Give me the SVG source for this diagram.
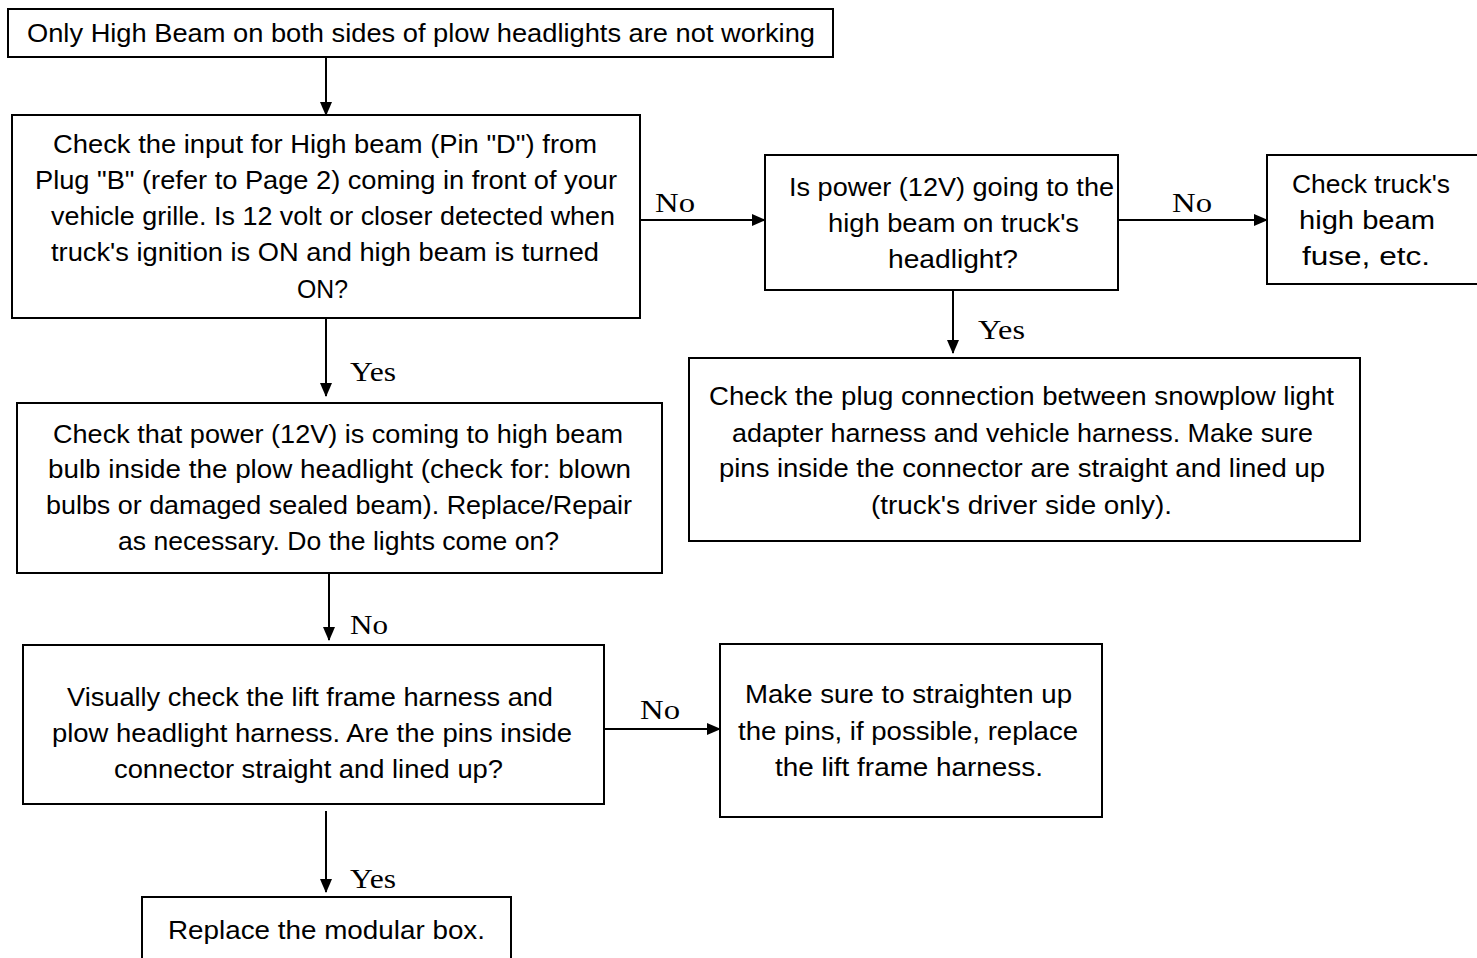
<svg xmlns="http://www.w3.org/2000/svg" width="1477" height="958" viewBox="0 0 1477 958">
<style>
.box{fill:#fff;stroke:#000;stroke-width:2}
.t{font-family:"Liberation Sans",Arial,sans-serif;font-size:25px;fill:#000}
.l{font-family:"Liberation Serif","Times New Roman",serif;font-size:28px;fill:#000}
.c{stroke:#000;stroke-width:2;fill:none;marker-end:url(#ah)}
</style>
<defs>
<marker id="ah" markerUnits="userSpaceOnUse" markerWidth="14" markerHeight="12" refX="13" refY="6" orient="auto">
<path d="M0,0 L14,6 L0,12 z" fill="#000"/>
</marker>
</defs>
<rect width="1477" height="958" fill="#fff"/>
<g id="connectors">
<line class="c" x1="326" y1="57" x2="326" y2="115"/>
<line class="c" x1="640" y1="220" x2="765" y2="220"/>
<line class="c" x1="1118" y1="220" x2="1267" y2="220"/>
<line class="c" x1="953" y1="290" x2="953" y2="353"/>
<line class="c" x1="326" y1="318" x2="326" y2="396"/>
<line class="c" x1="329" y1="573" x2="329" y2="640"/>
<line class="c" x1="604" y1="729" x2="720" y2="729"/>
<line class="c" x1="326" y1="811" x2="326" y2="892"/>
<text class="l" x="655" y="212" textLength="40" lengthAdjust="spacingAndGlyphs">No</text>
<text class="l" x="1172" y="212" textLength="40" lengthAdjust="spacingAndGlyphs">No</text>
<text class="l" x="978" y="339" textLength="47" lengthAdjust="spacingAndGlyphs">Yes</text>
<text class="l" x="350" y="381" textLength="46" lengthAdjust="spacingAndGlyphs">Yes</text>
<text class="l" x="350" y="634" textLength="38" lengthAdjust="spacingAndGlyphs">No</text>
<text class="l" x="640" y="719" textLength="40" lengthAdjust="spacingAndGlyphs">No</text>
<text class="l" x="350" y="888" textLength="46" lengthAdjust="spacingAndGlyphs">Yes</text>
</g>
<g id="start">
<rect class="box" x="8" y="9" width="825" height="48"/>
<text class="t" x="27" y="42" textLength="788" lengthAdjust="spacingAndGlyphs">Only High Beam on both sides of plow headlights are not working</text>
</g>
<g id="check-input">
<rect class="box" x="12" y="115" width="628" height="203"/>
<text class="t" x="53" y="153" textLength="544" lengthAdjust="spacingAndGlyphs">Check the input for High beam (Pin "D") from</text>
<text class="t" x="35" y="189" textLength="582" lengthAdjust="spacingAndGlyphs">Plug "B" (refer to Page 2) coming in front of your</text>
<text class="t" x="51" y="225" textLength="564" lengthAdjust="spacingAndGlyphs">vehicle grille. Is 12 volt or closer detected when</text>
<text class="t" x="51" y="261" textLength="548" lengthAdjust="spacingAndGlyphs">truck's ignition is ON and high beam is turned</text>
<text class="t" x="297" y="298" textLength="51" lengthAdjust="spacingAndGlyphs">ON?</text>
</g>
<g id="power-truck">
<rect class="box" x="765" y="155" width="353" height="135"/>
<text class="t" x="789" y="196" textLength="325" lengthAdjust="spacingAndGlyphs">Is power (12V) going to the</text>
<text class="t" x="828" y="232" textLength="251" lengthAdjust="spacingAndGlyphs">high beam on truck's</text>
<text class="t" x="888" y="268" textLength="130" lengthAdjust="spacingAndGlyphs">headlight?</text>
</g>
<g id="check-fuse">
<rect class="box" x="1267" y="155" width="212" height="129"/>
<text class="t" x="1292" y="193" textLength="158" lengthAdjust="spacingAndGlyphs">Check truck's</text>
<text class="t" x="1299" y="229" textLength="136" lengthAdjust="spacingAndGlyphs">high beam</text>
<text class="t" x="1302" y="265" textLength="128" lengthAdjust="spacingAndGlyphs">fuse, etc.</text>
</g>
<g id="check-plug">
<rect class="box" x="689" y="358" width="671" height="183"/>
<text class="t" x="709" y="405" textLength="625" lengthAdjust="spacingAndGlyphs">Check the plug connection between snowplow light</text>
<text class="t" x="732" y="442" textLength="581" lengthAdjust="spacingAndGlyphs">adapter harness and vehicle harness. Make sure</text>
<text class="t" x="719" y="477" textLength="606" lengthAdjust="spacingAndGlyphs">pins inside the connector are straight and lined up</text>
<text class="t" x="871" y="514" textLength="301" lengthAdjust="spacingAndGlyphs">(truck's driver side only).</text>
</g>
<g id="check-bulb">
<rect class="box" x="17" y="403" width="645" height="170"/>
<text class="t" x="53" y="443" textLength="570" lengthAdjust="spacingAndGlyphs">Check that power (12V) is coming to high beam</text>
<text class="t" x="48" y="478" textLength="583" lengthAdjust="spacingAndGlyphs">bulb inside the plow headlight (check for: blown</text>
<text class="t" x="46" y="514" textLength="586" lengthAdjust="spacingAndGlyphs">bulbs or damaged sealed beam). Replace/Repair</text>
<text class="t" x="118" y="550" textLength="441" lengthAdjust="spacingAndGlyphs">as necessary. Do the lights come on?</text>
</g>
<g id="visual-check">
<rect class="box" x="23" y="645" width="581" height="159"/>
<text class="t" x="67" y="706" textLength="486" lengthAdjust="spacingAndGlyphs">Visually check the lift frame harness and</text>
<text class="t" x="52" y="742" textLength="520" lengthAdjust="spacingAndGlyphs">plow headlight harness. Are the pins inside</text>
<text class="t" x="114" y="778" textLength="389" lengthAdjust="spacingAndGlyphs">connector straight and lined up?</text>
</g>
<g id="straighten">
<rect class="box" x="720" y="644" width="382" height="173"/>
<text class="t" x="745" y="703" textLength="327" lengthAdjust="spacingAndGlyphs">Make sure to straighten up</text>
<text class="t" x="738" y="740" textLength="340" lengthAdjust="spacingAndGlyphs">the pins, if possible, replace</text>
<text class="t" x="775" y="776" textLength="268" lengthAdjust="spacingAndGlyphs">the lift frame harness.</text>
</g>
<g id="replace-box">
<rect class="box" x="142" y="897" width="369" height="70"/>
<text class="t" x="168" y="939" textLength="317" lengthAdjust="spacingAndGlyphs">Replace the modular box.</text>
</g>
</svg>
